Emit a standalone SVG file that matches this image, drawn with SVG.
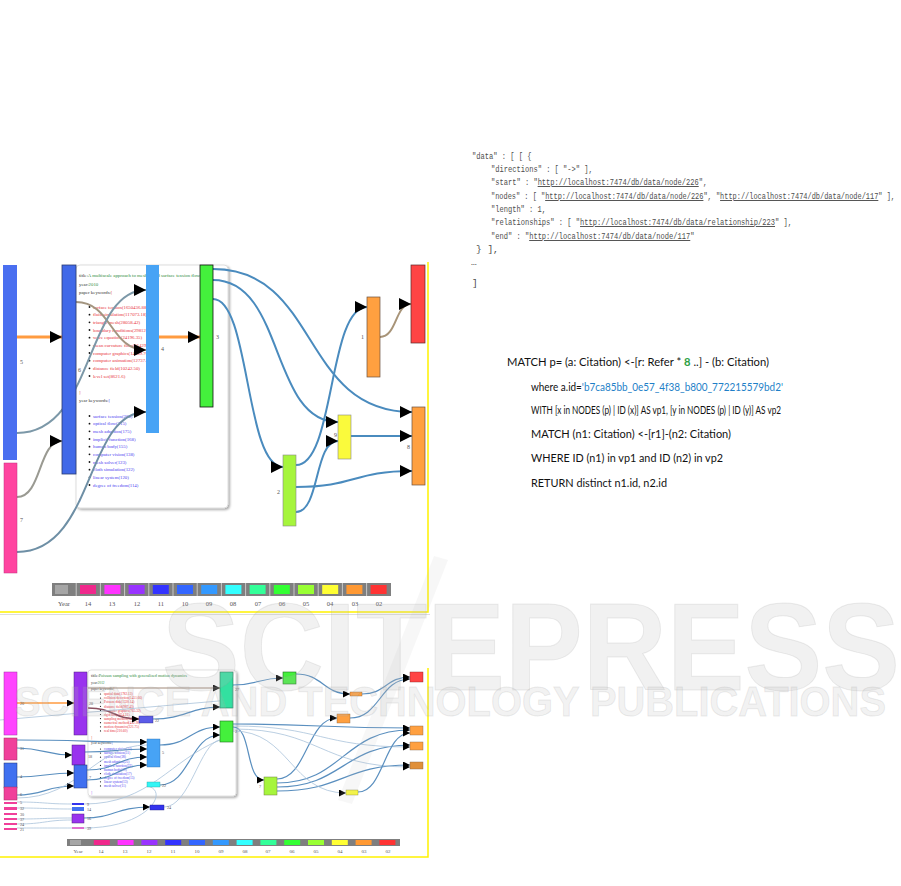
<svg xmlns="http://www.w3.org/2000/svg" width="901" height="886" viewBox="0 0 901 886">
<style>
.bg{fill:#fff}
.lbl{font-family:"Liberation Serif",serif;font-size:6px;fill:#555}
.lbs{font-family:"Liberation Serif",serif;font-size:4.2px;fill:#555}
.leg{font-family:"Liberation Serif",serif;font-size:6.5px;fill:#555;text-anchor:middle}
.legs{font-family:"Liberation Serif",serif;font-size:5px;fill:#555;text-anchor:middle}
.pt{font-family:"Liberation Serif",serif;font-size:4.8px}
.ps{font-family:"Liberation Serif",serif;font-size:3.4px}
.red{fill:#E8303A}
.blu{fill:#4a3cf0}
.js{font-family:"Liberation Mono",monospace;font-size:9.5px;fill:#4d4d4d}
.u{text-decoration:underline}
.cy{font-family:Lato,"Liberation Sans",sans-serif;font-size:11.5px;fill:#111}
.lk{fill:none;stroke:#4A8BBE;stroke-width:2}
.lkb{fill:none;stroke:#5A8FBF;stroke-width:1.2}
.lkt{fill:none;stroke:#A9C3DA;stroke-width:0.8}
.wm{font-family:"Liberation Sans",sans-serif;font-weight:bold;fill:#bbb;fill-opacity:0.2;stroke:#999;stroke-opacity:0.18;stroke-width:1}
</style>
<defs>
<marker id="a" viewBox="0 0 10 10" refX="10" refY="5" markerWidth="12" markerHeight="12" markerUnits="userSpaceOnUse" orient="auto"><path d="M0,0L10,5L0,10z" fill="#000"/></marker>
<marker id="b" viewBox="0 0 10 10" refX="10" refY="5" markerWidth="9" markerHeight="7" markerUnits="userSpaceOnUse" orient="auto"><path d="M0,0L10,5L0,10z" fill="#000"/></marker>
<filter id="sh" x="-10%" y="-10%" width="130%" height="130%"><feDropShadow dx="1.5" dy="1.5" stdDeviation="1.2" flood-color="#000" flood-opacity="0.35"/></filter>
</defs>
<rect class="bg" x="0" y="0" width="901" height="886"/>

<!-- ================= TOP DIAGRAM ================= -->
<g id="top-popup">
<rect x="76" y="265" width="152" height="243" rx="4" fill="#fff" stroke="#d5d5d5" stroke-width="0.8" filter="url(#sh)"/>
<text class="pt" x="79" y="277" textLength="123" lengthAdjust="spacingAndGlyphs"><tspan fill="#333">title:</tspan><tspan fill="#2E8B3E">A multiscale approach to mesh-based surface tension flows</tspan></text>
<text class="pt" x="79" y="285.5"><tspan fill="#333">year:</tspan><tspan fill="#2E8B3E">2010</tspan></text>
<text class="pt" x="79" y="294"><tspan fill="#333">paper keywords:</tspan><tspan fill="#E8603A">[</tspan></text>
<g fill="#111">
<circle cx="89.5" cy="307" r="0.9"/><circle cx="89.5" cy="314.7" r="0.9"/><circle cx="89.5" cy="322.3" r="0.9"/><circle cx="89.5" cy="330" r="0.9"/><circle cx="89.5" cy="337.7" r="0.9"/><circle cx="89.5" cy="345.3" r="0.9"/><circle cx="89.5" cy="353" r="0.9"/><circle cx="89.5" cy="360.7" r="0.9"/><circle cx="89.5" cy="368.3" r="0.9"/><circle cx="89.5" cy="376" r="0.9"/>
<circle cx="89.5" cy="416" r="0.9"/><circle cx="89.5" cy="423.7" r="0.9"/><circle cx="89.5" cy="431.3" r="0.9"/><circle cx="89.5" cy="439" r="0.9"/><circle cx="89.5" cy="446.7" r="0.9"/><circle cx="89.5" cy="454.3" r="0.9"/><circle cx="89.5" cy="462" r="0.9"/><circle cx="89.5" cy="469.7" r="0.9"/><circle cx="89.5" cy="477.3" r="0.9"/><circle cx="89.5" cy="485" r="0.9"/>
</g>
<g class="pt red">
<text x="93" y="308.7">surface tension(1650436.88)</text>
<text x="93" y="316.4">fluid simulation(117073.18)</text>
<text x="93" y="324">triangle mesh(28058.42)</text>
<text x="93" y="331.7">boundary conditions(29812.26)</text>
<text x="93" y="339.4">wave equation(24196.35)</text>
<text x="93" y="347">mean curvature flow(21429.47)</text>
<text x="93" y="354.7">computer graphics(14189.76)</text>
<text x="93" y="362.4">computer animation(12737.73)</text>
<text x="93" y="370">distance field(10242.50)</text>
<text x="93" y="377.7">level set(8621.6)</text>
</g>
<text class="pt" x="79" y="393.5" fill="#E8603A">]</text>
<text class="pt" x="79" y="401.5"><tspan fill="#333">year keywords:</tspan><tspan fill="#4a3cf0">[</tspan></text>
<g class="pt blu">
<text x="93" y="417.7">surface tension(260)</text>
<text x="93" y="425.4">optical flow(215)</text>
<text x="93" y="433">mesh adaption(175)</text>
<text x="93" y="440.7">implicit function(168)</text>
<text x="93" y="448.4">human body(155)</text>
<text x="93" y="456">computer vision(138)</text>
<text x="93" y="463.7">mesh solver(123)</text>
<text x="93" y="471.4">cloth simulation(122)</text>
<text x="93" y="479">linear system(120)</text>
<text x="93" y="486.7">degree of freedom(114)</text>
</g>
<text class="pt" x="79" y="500.5" fill="#8a5cf0">]</text>
</g>

<g id="top-links">
<path d="M17,337L62,337" fill="none" stroke="#FF9B40" stroke-width="3" marker-end="url(#a)"/>
<path d="M159,337L200,337" fill="none" stroke="#FF9B40" stroke-width="3" marker-end="url(#a)"/>
<path d="M76,302C112,302 110,350 146,350" fill="none" stroke="#A39580" stroke-width="2" marker-end="url(#a)"/>
<path d="M17,433C95,433 85,290 146,290" fill="none" stroke="#7C98A8" stroke-width="2" marker-end="url(#a)"/>
<path d="M17,497C42,497 38,441 62,441" fill="none" stroke="#9A9A92" stroke-width="2" marker-end="url(#a)"/>
<path d="M17,552C95,552 85,412 146,412" fill="none" stroke="#6E8FA5" stroke-width="2" marker-end="url(#a)"/>
<path class="lk" d="M213,269C320,269 300,412 412,412" marker-end="url(#a)"/>
<path class="lk" d="M213,280C285,280 270,422 338,422" marker-end="url(#a)"/>
<path class="lk" d="M213,299C250,299 245,467 283,467" marker-end="url(#a)"/>
<path class="lk" d="M296,465C335,465 328,307 367,307" marker-end="url(#a)"/>
<path class="lk" d="M296,512C320,512 314,441 338,441" marker-end="url(#a)"/>
<path class="lk" d="M296,487C355,487 353,471 412,471" marker-end="url(#a)"/>
<path class="lk" d="M351,436L412,436" marker-end="url(#a)"/>
<path d="M380,337C397,337 395,304 411,304" fill="none" stroke="#A89478" stroke-width="2" marker-end="url(#a)"/>
</g>

<g id="t-n5"><rect x="3" y="265" width="14" height="195" fill="#4A6FF0"/><text class="lbl" x="20" y="364">5</text></g>
<g id="t-n7"><rect x="4" y="463" width="13" height="110" fill="#FF44A0" stroke="#c03080" stroke-width="0.5"/><text class="lbl" x="20" y="522">7</text></g>
<g id="t-n6"><rect x="62" y="265" width="14" height="209" fill="#4169E8" stroke="#2a3a70" stroke-width="0.8"/><text class="lbl" x="78" y="372">6</text></g>
<g id="t-n4"><rect x="146" y="265" width="13" height="168" fill="#47A3F5"/><text class="lbl" x="161" y="351">4</text></g>
<g id="t-n3"><rect x="200" y="265" width="13" height="142" fill="#44F03C" stroke="#111" stroke-width="0.8"/><text class="lbl" x="216" y="339">3</text></g>
<g id="t-n2"><rect x="283" y="455" width="13" height="71" fill="#A6F53C" stroke="#888" stroke-width="0.6"/><text class="lbl" x="277" y="494">2</text></g>
<g id="t-n9"><rect x="338" y="415" width="13" height="44" fill="#FAFA3C" stroke="#888" stroke-width="0.6"/><text class="lbl" x="334" y="437">9</text></g>
<g id="t-n1"><rect x="367" y="297" width="13" height="80" fill="#FFA040" stroke="#6a5040" stroke-width="0.7"/><text class="lbl" x="361" y="339">1</text></g>
<g id="t-n0"><rect x="411" y="265" width="14" height="78" fill="#FF4444" stroke="#5a2a2a" stroke-width="0.7"/></g>
<g id="t-n8"><rect x="412" y="407" width="13" height="78" fill="#FFA040" stroke="#6a5040" stroke-width="0.7"/><text class="lbl" x="407" y="449">8</text></g>

<g id="top-legend">
<rect x="52" y="583" width="339" height="13" fill="#7f7f7f"/>
<g stroke="#c8c8c8" stroke-width="1">
<path d="M76.2,583V596M100.4,583V596M124.6,583V596M148.8,583V596M173,583V596M197.2,583V596M221.4,583V596M245.6,583V596M269.8,583V596M294,583V596M318.2,583V596M342.4,583V596M366.6,583V596"/>
</g>
<rect x="55" y="585" width="13" height="9" fill="#A6A6A6"/>
<rect x="80" y="585" width="16" height="9" fill="#F0288C"/>
<rect x="104.4" y="585" width="16" height="9" fill="#FF33FF"/>
<rect x="128.6" y="585" width="16" height="9" fill="#9933FF"/>
<rect x="152.8" y="585" width="16" height="9" fill="#3333FF"/>
<rect x="177" y="585" width="16" height="9" fill="#3366FF"/>
<rect x="201.2" y="585" width="16" height="9" fill="#3399FF"/>
<rect x="225.4" y="585" width="16" height="9" fill="#33FFFF"/>
<rect x="249.6" y="585" width="16" height="9" fill="#33FF99"/>
<rect x="273.8" y="585" width="16" height="9" fill="#33FF33"/>
<rect x="298" y="585" width="16" height="9" fill="#99FF33"/>
<rect x="322.2" y="585" width="16" height="9" fill="#FFFF33"/>
<rect x="346.4" y="585" width="16" height="9" fill="#FF9933"/>
<rect x="370.6" y="585" width="16" height="9" fill="#FF3333"/>
<text class="leg" x="64" y="606">Year</text><text class="leg" x="88" y="606">14</text><text class="leg" x="112" y="606">13</text><text class="leg" x="137" y="606">12</text><text class="leg" x="161" y="606">11</text><text class="leg" x="185" y="606">10</text><text class="leg" x="209" y="606">09</text><text class="leg" x="233" y="606">08</text><text class="leg" x="258" y="606">07</text><text class="leg" x="282" y="606">06</text><text class="leg" x="306" y="606">05</text><text class="leg" x="330" y="606">04</text><text class="leg" x="355" y="606">03</text><text class="leg" x="379" y="606">02</text>
</g>
<g id="top-frame" fill="none">
<path d="M428,262V612H0" stroke="#FFF200" stroke-width="1.5"/>
<path d="M0,614.5H430" stroke="#ddd" stroke-width="1"/>
</g>

<!-- ================= BOTTOM DIAGRAM ================= -->
<g id="bottom-popup">
<rect x="88" y="670" width="148" height="126" rx="3" fill="#fff" stroke="#d5d5d5" stroke-width="0.7" filter="url(#sh)"/>
<text class="ps" x="91" y="677" textLength="96" lengthAdjust="spacingAndGlyphs"><tspan fill="#333">title:</tspan><tspan fill="#2E8B3E">Poisson sampling with generalized motion dynamics</tspan></text>
<text class="ps" x="91" y="683.5"><tspan fill="#333">year:</tspan><tspan fill="#2E8B3E">2012</tspan></text>
<text class="ps" x="91" y="689.5"><tspan fill="#333">paper keywords:</tspan><tspan fill="#E8603A">[</tspan></text>
<g fill="#111">
<circle cx="100.5" cy="694" r="0.6"/><circle cx="100.5" cy="698.1" r="0.6"/><circle cx="100.5" cy="702.2" r="0.6"/><circle cx="100.5" cy="706.3" r="0.6"/><circle cx="100.5" cy="710.4" r="0.6"/><circle cx="100.5" cy="714.5" r="0.6"/><circle cx="100.5" cy="718.6" r="0.6"/><circle cx="100.5" cy="722.7" r="0.6"/><circle cx="100.5" cy="726.8" r="0.6"/><circle cx="100.5" cy="730.9" r="0.6"/>
<circle cx="100.5" cy="749" r="0.6"/><circle cx="100.5" cy="753.1" r="0.6"/><circle cx="100.5" cy="757.2" r="0.6"/><circle cx="100.5" cy="761.3" r="0.6"/><circle cx="100.5" cy="765.4" r="0.6"/><circle cx="100.5" cy="769.5" r="0.6"/><circle cx="100.5" cy="773.6" r="0.6"/><circle cx="100.5" cy="777.7" r="0.6"/><circle cx="100.5" cy="781.8" r="0.6"/><circle cx="100.5" cy="785.9" r="0.6"/>
</g>
<g class="ps red">
<text x="104" y="695.2">spatial data(1782.13)</text>
<text x="104" y="699.3">collision detection(1451.66)</text>
<text x="104" y="703.4">Poisson disk(1330.14)</text>
<text x="104" y="707.5">distance field(987.45)</text>
<text x="104" y="711.6">computer graphics(765.32)</text>
<text x="104" y="715.7">rigid body(654.21)</text>
<text x="104" y="719.8">sampling method(543.11)</text>
<text x="104" y="723.9">numerical method(432.90)</text>
<text x="104" y="728">motion dynamics(321.75)</text>
<text x="104" y="732.1">real time(210.60)</text>
</g>
<text class="ps" x="91" y="739" fill="#E8603A">]</text>
<text class="ps" x="91" y="743.5"><tspan fill="#333">year keywords:</tspan><tspan fill="#4a3cf0">[</tspan></text>
<g class="ps blu">
<text x="104" y="750.2">computer vision(34)</text>
<text x="104" y="754.3">surface tension(31)</text>
<text x="104" y="758.4">optical flow(28)</text>
<text x="104" y="762.5">mesh adaption(25)</text>
<text x="104" y="766.6">implicit function(22)</text>
<text x="104" y="770.7">human body(19)</text>
<text x="104" y="774.8">cloth simulation(17)</text>
<text x="104" y="778.9">degree of freedom(15)</text>
<text x="104" y="783">linear system(13)</text>
<text x="104" y="787.1">mesh solver(11)</text>
</g>
<text class="ps" x="91" y="794" fill="#8a5cf0">]</text>
</g>

<g id="bottom-links">
<path d="M17,703L74,703" fill="none" stroke="#FF9B40" stroke-width="1.5" marker-end="url(#b)"/>
<path d="M88,688L220,688" fill="none" stroke="#A08878" stroke-width="1" marker-end="url(#b)"/>
<path d="M88,708C115,708 112,719 139,719" fill="none" stroke="#8A5060" stroke-width="1.5" marker-end="url(#b)"/>
<path class="lkb" d="M153,719C185,719 190,707 220,707" marker-end="url(#b)"/>
<path class="lkb" d="M17,740C80,740 90,742 147,742" marker-end="url(#b)"/>
<path class="lkb" d="M17,748C45,748 45,755 72,755" marker-end="url(#b)"/>
<path class="lkb" d="M17,777C45,777 45,773 74,773" marker-end="url(#b)"/>
<path class="lkb" d="M17,795C45,795 45,786 74,786" marker-end="url(#b)"/>
<path class="lkb" d="M85,752C115,752 115,749 147,749" marker-end="url(#b)"/>
<path class="lkb" d="M87,770C117,770 117,757 147,757" marker-end="url(#b)"/>
<path class="lkb" d="M87,780C117,780 117,765 147,765" marker-end="url(#b)"/>
<path class="lkt" d="M17,798C80,798 95,745 147,745"/>
<path class="lkb" d="M160,745C190,745 190,727 220,727" marker-end="url(#b)"/>
<path class="lkb" d="M160,785C190,785 190,735 220,735" marker-end="url(#b)"/>
<path class="lkb" d="M233,727C252,727 245,780 264,780" marker-end="url(#b)"/>
<path class="lkb" d="M233,685C258,685 258,678 283,678" marker-end="url(#b)"/>
<path class="lkb" d="M296,674C323,674 323,694 350,694" marker-end="url(#b)"/>
<path class="lkb" d="M362,694C386,694 386,677 410,677" marker-end="url(#b)"/>
<path class="lkb" d="M350,718C380,718 380,679 410,679" marker-end="url(#b)"/>
<path class="lkb" d="M277,779C307,779 307,718 337,718" marker-end="url(#b)"/>
<path class="lkb" d="M277,783C343,783 343,730 410,730" marker-end="url(#b)"/>
<path class="lkb" d="M277,787C343,787 343,745 410,745" marker-end="url(#b)"/>
<path class="lkb" d="M277,791C343,791 343,765 410,765" marker-end="url(#b)"/>
<path class="lkb" d="M233,724C320,724 320,728 410,728" marker-end="url(#b)"/>
<path class="lkt" d="M233,726C320,726 320,747 410,747" marker-end="url(#b)"/>
<path class="lkt" d="M233,729C320,729 320,767 410,767" marker-end="url(#b)"/>
<path class="lkt" d="M233,731C290,731 290,793 346,793" marker-end="url(#b)"/>
<path class="lkb" d="M358,792C384,792 384,733 410,733" marker-end="url(#b)"/>
<path class="lkt" d="M17,802C45,802 45,804 72,804"/>
<path class="lkt" d="M17,808C45,808 45,809 72,809"/>
<path class="lkt" d="M17,819C45,819 45,818 72,818"/>
<path class="lkt" d="M17,824C45,824 45,820 72,820"/>
<path class="lkt" d="M17,828C45,828 45,828 72,828"/>
<path class="lkb" d="M84,818C115,818 115,807 150,807" marker-end="url(#b)"/>
<path class="lkt" d="M84,804C150,804 170,760 220,740"/>
<path class="lkt" d="M164,807C190,807 200,742 220,740"/>
<path class="lkt" d="M84,828C150,828 170,790 147,786"/>
<path class="lkt" d="M0,720L230,700"/>
</g>

<g id="b-n20"><rect x="4" y="672" width="13" height="63" fill="#FF44FF" stroke="#a030a0" stroke-width="0.5"/><text class="lbs" x="20" y="705">20</text></g>
<g id="b-n28"><rect x="74" y="672" width="13" height="63" fill="#9933EE" stroke="#502080" stroke-width="0.5"/><text class="lbs" x="89" y="705">28</text></g>
<g id="b-n31"><rect x="4" y="738" width="13" height="22" fill="#F0409A" stroke="#a03060" stroke-width="0.5"/><text class="lbs" x="20" y="750">31</text></g>
<g id="b-n4"><rect x="4" y="763" width="13" height="25" fill="#4070F0" stroke="#203070" stroke-width="0.5"/><text class="lbs" x="20" y="778">4</text></g>
<g id="b-n6"><rect x="4" y="787" width="13" height="13" fill="#F0409A" stroke="#a03060" stroke-width="0.5"/><text class="lbs" x="20" y="796">6</text></g>
<g id="b-n5a"><rect x="4" y="802" width="13" height="2" fill="#F0409A"/><text class="lbs" x="20" y="804">5</text></g>
<g id="b-n32"><rect x="4" y="807" width="13" height="3" fill="#F0409A"/><text class="lbs" x="20" y="810">32</text></g>
<g id="b-n30"><rect x="4" y="813" width="13" height="2" fill="#F0409A"/><text class="lbs" x="20" y="815.5">30</text></g>
<g id="b-n37"><rect x="4" y="818" width="13" height="2" fill="#F0409A"/><text class="lbs" x="20" y="820.5">37</text></g>
<g id="b-n24a"><rect x="4" y="823" width="13" height="2" fill="#F0409A"/><text class="lbs" x="20" y="825.5">24</text></g>
<g id="b-n21"><rect x="4" y="828" width="13" height="2" fill="#F0409A"/><text class="lbs" x="20" y="830.5">21</text></g>
<g id="b-n18"><rect x="72" y="745" width="13" height="20" fill="#9933EE" stroke="#502080" stroke-width="0.5"/><text class="lbs" x="88" y="758">18</text></g>
<g id="b-n7"><rect x="74" y="765" width="13" height="23" fill="#4070F0" stroke="#203070" stroke-width="0.5"/><text class="lbs" x="89" y="779">7</text></g>
<g id="b-n9"><rect x="72" y="803" width="12" height="2" fill="#3333EE"/><text class="lbs" x="87" y="805.5">9</text></g>
<g id="b-n14"><rect x="72" y="807" width="12" height="4" fill="#4070F0"/><text class="lbs" x="87" y="810.5">14</text></g>
<g id="b-n16"><rect x="72" y="814" width="12" height="9" fill="#9933EE" stroke="#502080" stroke-width="0.5"/><text class="lbs" x="87" y="820">16</text></g>
<g id="b-n39"><rect x="72" y="827" width="12" height="2" fill="#E070D0"/><text class="lbs" x="87" y="829.5">39</text></g>
<g id="b-n5"><rect x="147" y="739" width="13" height="28" fill="#47A3F5" stroke="#3070b0" stroke-width="0.4"/><text class="lbs" x="162" y="754">5</text></g>
<g id="b-n22a"><rect x="139" y="716" width="14" height="7" fill="#5B5BE8" stroke="#303080" stroke-width="0.4"/><text class="lbs" x="155" y="722">22</text></g>
<g id="b-n22c"><rect x="147" y="782" width="13" height="5" fill="#33F5F5" stroke="#30a0a0" stroke-width="0.4"/><text class="lbs" x="162" y="787">22</text></g>
<g id="b-n24"><rect x="150" y="805" width="14" height="5" fill="#3333EE" stroke="#202080" stroke-width="0.4"/><text class="lbs" x="167" y="809">24</text></g>
<g id="b-n27"><rect x="220" y="672" width="13" height="36" fill="#33E0A0" stroke="#207050" stroke-width="0.6"/><text class="lbs" x="235" y="691">27</text></g>
<g id="b-n2"><rect x="220" y="721" width="13" height="21" fill="#44F03C" stroke="#207020" stroke-width="0.6"/><text class="lbs" x="235" y="733">2</text></g>
<g id="b-n6g"><rect x="283" y="672" width="13" height="12" fill="#44F03C" stroke="#207020" stroke-width="0.6"/></g>
<g id="b-n3t"><rect x="350" y="692" width="12" height="4" fill="#FFA040" stroke="#806040" stroke-width="0.4"/></g>
<g id="b-n22o"><rect x="337" y="714" width="13" height="9" fill="#FFA040" stroke="#806040" stroke-width="0.4"/><text class="lbs" x="336" y="720" text-anchor="end">22</text></g>
<g id="b-n0"><rect x="410" y="672" width="13" height="10" fill="#FF4444" stroke="#802020" stroke-width="0.4"/></g>
<g id="b-nr1"><rect x="410" y="726" width="13" height="9" fill="#FFA040" stroke="#806040" stroke-width="0.4"/></g>
<g id="b-nr2"><rect x="410" y="742" width="13" height="8" fill="#FFA040" stroke="#806040" stroke-width="0.4"/></g>
<g id="b-nr3"><rect x="410" y="762" width="13" height="7" fill="#E0903A" stroke="#806040" stroke-width="0.4"/></g>
<g id="b-nlime"><rect x="264" y="777" width="13" height="18" fill="#A6F53C" stroke="#708040" stroke-width="0.5"/><text class="lbs" x="259" y="788">7</text></g>
<g id="b-nyel"><rect x="346" y="790" width="12" height="5" fill="#FAFA3C" stroke="#808040" stroke-width="0.4"/></g>

<g id="bottom-legend">
<rect x="67" y="839" width="333" height="7" fill="#7f7f7f"/>
<rect x="70" y="840" width="11" height="5" fill="#A6A6A6"/>
<rect x="93.8" y="840" width="16" height="5" fill="#F0288C"/>
<rect x="117.6" y="840" width="16" height="5" fill="#FF33FF"/>
<rect x="141.4" y="840" width="16" height="5" fill="#9933FF"/>
<rect x="165.2" y="840" width="16" height="5" fill="#3333FF"/>
<rect x="189" y="840" width="16" height="5" fill="#3366FF"/>
<rect x="212.8" y="840" width="16" height="5" fill="#3399FF"/>
<rect x="236.6" y="840" width="16" height="5" fill="#33FFFF"/>
<rect x="260.4" y="840" width="16" height="5" fill="#33FF99"/>
<rect x="284.2" y="840" width="16" height="5" fill="#33FF33"/>
<rect x="308" y="840" width="16" height="5" fill="#99FF33"/>
<rect x="331.8" y="840" width="16" height="5" fill="#FFFF33"/>
<rect x="355.6" y="840" width="16" height="5" fill="#FF9933"/>
<rect x="379.4" y="840" width="16" height="5" fill="#FF3333"/>
<text class="legs" x="78" y="853">Year</text><text class="legs" x="101" y="853">14</text><text class="legs" x="125" y="853">13</text><text class="legs" x="149" y="853">12</text><text class="legs" x="173" y="853">11</text><text class="legs" x="197" y="853">10</text><text class="legs" x="221" y="853">09</text><text class="legs" x="245" y="853">08</text><text class="legs" x="268" y="853">07</text><text class="legs" x="292" y="853">06</text><text class="legs" x="316" y="853">05</text><text class="legs" x="340" y="853">04</text><text class="legs" x="364" y="853">03</text><text class="legs" x="388" y="853">02</text>
</g>
<g id="bottom-frame" fill="none">
<path d="M428,668V857H0" stroke="#FFF200" stroke-width="1.5"/>
</g>

<!-- ================= JSON ================= -->
<g id="json">
<text class="js" x="472" y="159" textLength="59.4" lengthAdjust="spacingAndGlyphs">"data" : [ [ {</text>
<text class="js" x="491" y="172" textLength="101.8" lengthAdjust="spacingAndGlyphs">"directions" : [ "-&gt;" ],</text>
<text class="js" x="491" y="185" textLength="216.2" lengthAdjust="spacingAndGlyphs">"start" : "<tspan class="u">http://localhost:7474/db/data/node/226</tspan>",</text>
<text class="js" x="491" y="199" textLength="404" lengthAdjust="spacingAndGlyphs">"nodes" : [ "<tspan class="u">http://localhost:7474/db/data/node/226</tspan>", "<tspan class="u">http://localhost:7474/db/data/node/117</tspan>" ],</text>
<text class="js" x="491" y="212" textLength="55" lengthAdjust="spacingAndGlyphs">"length" : 1,</text>
<text class="js" x="491" y="225" textLength="301" lengthAdjust="spacingAndGlyphs">"relationships" : [ "<tspan class="u">http://localhost:7474/db/data/relationship/223</tspan>" ],</text>
<text class="js" x="491" y="239" textLength="203.5" lengthAdjust="spacingAndGlyphs">"end" : "<tspan class="u">http://localhost:7474/db/data/node/117</tspan>"</text>
<text class="js" x="476" y="252">} ],</text>
<text class="js" x="471" y="265">…</text>
<text class="js" x="472" y="286">]</text>
</g>

<!-- ================= CYPHER ================= -->
<g id="cypher">
<text class="cy" x="507" y="366" textLength="262" lengthAdjust="spacingAndGlyphs">MATCH p= (a: Citation) &lt;-[r: Refer * <tspan fill="#2EA043" font-weight="bold">8</tspan> ..]  - (b: Citation)</text>
<text class="cy" x="531" y="391" textLength="252" lengthAdjust="spacingAndGlyphs">where a.id=<tspan fill="#1E7FC8">'b7ca85bb_0e57_4f38_b800_772215579bd2'</tspan></text>
<text class="cy" x="531" y="414" textLength="250" lengthAdjust="spacingAndGlyphs">WITH [x in NODES (p) | ID (x)] AS vp1, [y in NODES (p) | ID (y)] AS vp2</text>
<text class="cy" x="531" y="438" textLength="200" lengthAdjust="spacingAndGlyphs">MATCH (n1: Citation) &lt;-[r1]-(n2: Citation)</text>
<text class="cy" x="531" y="462" textLength="192" lengthAdjust="spacingAndGlyphs">WHERE ID (n1) in vp1 and ID (n2) in vp2</text>
<text class="cy" x="531" y="487" textLength="136" lengthAdjust="spacingAndGlyphs">RETURN distinct n1.id, n2.id</text>
</g>

<!-- ================= WATERMARK ================= -->
<g id="watermark">
<path d="M338,800L352,804L448,560L434,556Z" fill="#bbb" fill-opacity="0.12"/>
<text class="wm" x="162" y="690" font-size="125" textLength="738" lengthAdjust="spacingAndGlyphs">SCITEPRESS</text>
<text class="wm" x="14" y="716" font-size="42" textLength="872" lengthAdjust="spacingAndGlyphs">SCIENCE AND TECHNOLOGY PUBLICATIONS</text>
</g>
</svg>
